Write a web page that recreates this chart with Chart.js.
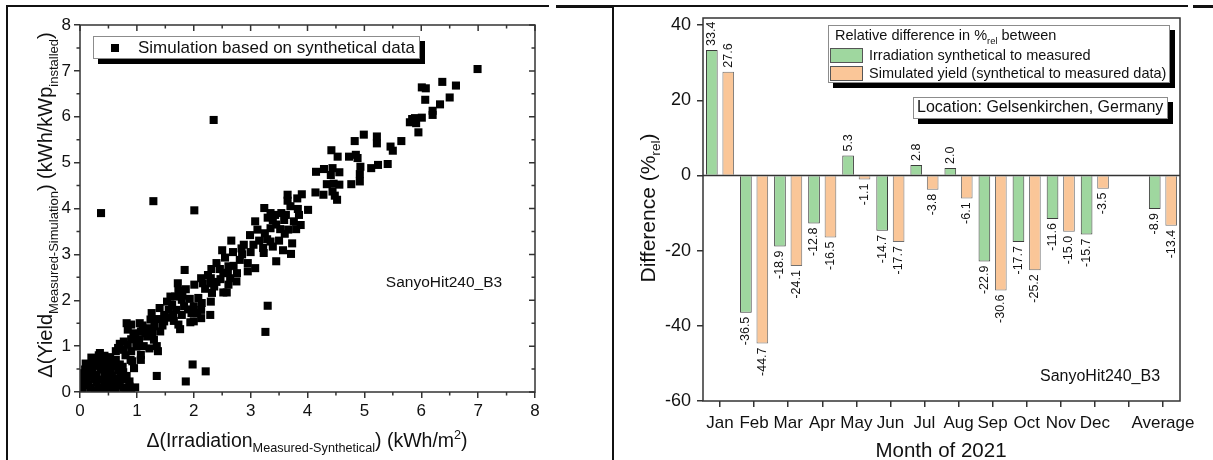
<!DOCTYPE html>
<html>
<head>
<meta charset="utf-8">
<script src="https://cdn.jsdelivr.net/npm/chart.js@4.4.1/dist/chart.umd.min.js"></script>
<style>
  html, body { margin: 0; padding: 0; background: #fff; }
  #page { position: relative; width: 1213px; height: 460px; overflow: hidden; }
  .cell { position: absolute; top: 0; height: 460px; }
  .rule { position: absolute; background: #111; }
</style>
</head>
<body>
<div id="page">
  <div class="cell" style="left:0;width:606px"><canvas id="scatterChart" width="606" height="460"></canvas></div>
  <div class="cell" style="left:606px;width:607px"><canvas id="barChart" width="607" height="460"></canvas></div>
  <div class="rule" style="left:6px;top:5px;width:543px;height:2px"></div>
  <div class="rule" style="left:556px;top:5px;width:57px;height:3px"></div>
  <div class="rule" style="left:612px;top:5px;width:576px;height:2px"></div>
  <div class="rule" style="left:1193px;top:5px;width:20px;height:3px"></div>
  <div class="rule" style="left:6px;top:5px;width:2px;height:455px"></div>
  <div class="rule" style="left:612px;top:5px;width:2px;height:455px"></div>
</div>

<script>
const FONT = '"Liberation Sans", Arial, Helvetica, sans-serif';

// left chart: daily differences (kWh/m2 vs kWh/kWp)
const irradiationDiff = [
  0.37, 1.29, 2.35, 2.01, 3.30, 3.26, 6.99, 1.98, 2.21, 1.86, 1.35, 0.97,
  6.37, 6.61, 6.01, 6.08, 6.07, 6.50, 6.33, 6.20, 6.20, 5.84, 5.89, 6.01, 5.80, 5.95, 5.91,
  4.99, 4.83, 5.65, 5.22, 5.22, 5.46, 5.50, 4.42, 4.53, 4.73, 4.88, 4.85, 4.93, 5.12, 5.24, 5.41,
  4.92, 4.92, 4.77, 4.15, 4.29, 4.44, 4.41, 4.56, 4.34, 4.46, 4.56, 4.14, 4.28, 4.48, 4.52, 4.44,
  4.01, 3.83, 3.65, 3.65, 3.90, 3.82, 3.85, 3.24, 3.35, 3.43, 3.54, 3.62, 3.59, 3.39, 3.76, 3.88,
  3.80, 3.66, 3.52, 3.35, 3.25, 3.29, 3.35, 3.39, 3.73, 3.57, 3.71, 3.45, 3.22, 3.23, 3.08, 3.12,
  2.99, 3.05, 2.88,
  2.66, 2.84, 2.69, 2.50, 2.55, 2.40, 2.31, 2.46, 2.61, 2.81, 2.95, 3.08, 2.95, 2.76, 2.52, 2.64,
  2.47, 2.75, 2.61, 2.30, 2.30, 2.16, 2.01, 2.13, 2.52, 2.58, 2.32, 2.30, 2.14, 1.84,
  1.72, 1.86, 1.73, 1.59, 1.53, 1.67, 1.79, 1.93, 2.00, 1.83, 1.69, 1.56, 1.40, 1.48, 1.64, 1.79,
  1.96, 2.13, 2.29, 2.00, 2.13, 1.94, 1.73, 1.76, 2.06,
  1.26, 1.24, 1.37, 1.48, 1.31, 1.18, 1.05, 1.41, 1.27, 0.82, 0.90, 0.84, 0.94, 1.07, 1.18, 1.04,
  0.90, 0.77, 1.30, 1.35, 1.37, 1.12, 0.99, 0.84, 0.67, 0.63, 0.76, 0.90, 1.07, 1.07, 0.92, 0.95, 0.89,
  0.35, 0.43, 0.53, 0.28, 0.22, 0.37, 0.50, 0.63, 0.70, 0.56, 0.44, 0.29, 0.17, 0.09, 0.22, 0.37,
  0.53, 0.67, 0.76, 0.05, 0.16, 0.29, 0.43, 0.56, 0.03, 0.12, 0.26, 0.37, 0.51, 0.65, 0.77, 0.87,
  0.03, 0.14, 0.29, 0.43, 0.56, 0.70, 0.05, 0.19, 0.33, 0.50, 0.63, 0.77, 0.03, 0.26, 0.43, 0.80, 0.87,
  0.10, 0.20, 0.33, 0.47, 0.60, 0.75, 0.82, 0.66, 0.48, 0.35, 0.08, 0.20, 0.40, 0.58, 0.72, 0.12,
  0.90, 0.60,
  0.70, 0.80, 1.00, 1.15, 1.22, 1.45, 1.10, 0.97, 1.55, 1.62,
  1.80, 1.90, 2.08, 2.20, 2.40, 2.25, 1.65, 2.36,
  2.70, 2.85, 3.00, 3.15, 3.45, 3.50, 3.60, 2.60, 3.30, 3.70
];
const yieldDiff = [
  3.90, 4.16, 5.93, 3.96, 1.88, 1.31, 7.04, 0.60, 0.45, 0.23, 0.35, 0.10,
  6.76, 6.68, 6.64, 6.62, 6.37, 6.42, 6.27, 6.13, 6.04, 5.95, 5.97, 5.98, 5.88, 5.66, 5.86,
  5.61, 5.47, 5.47, 5.57, 5.42, 5.35, 5.26, 5.27, 5.13, 5.13, 5.10, 5.17, 4.91, 4.88, 4.95, 4.97,
  4.75, 4.59, 4.53, 4.80, 4.86, 4.88, 4.73, 4.79, 4.53, 4.54, 4.52, 4.35, 4.30, 4.28, 4.19, 4.37,
  3.97, 3.99, 4.30, 4.17, 4.31, 4.22, 3.86, 4.01, 3.90, 3.86, 3.90, 3.86, 3.75, 3.75, 3.72, 3.64,
  3.55, 3.54, 3.55, 3.57, 3.46, 3.33, 3.28, 3.17, 3.24, 3.09, 3.01, 2.85, 3.14, 3.03, 3.72, 3.54,
  3.42, 3.21, 3.21,
  3.30, 3.13, 3.05, 3.09, 2.93, 2.81, 2.68, 2.68, 2.74, 2.88, 2.81, 2.70, 2.63, 2.59, 2.59, 2.48,
  2.46, 2.41, 2.34, 2.48, 2.37, 2.37, 2.34, 2.48, 2.17, 2.17, 2.16, 1.97, 1.94, 2.66,
  2.37, 2.24, 2.21, 2.08, 1.97, 2.08, 2.01, 2.03, 1.87, 1.87, 1.79, 1.79, 1.83, 1.68, 1.68, 1.68,
  1.72, 1.79, 1.68, 1.54, 1.61, 1.52, 1.47, 1.37, 1.72,
  1.72, 1.58, 1.59, 1.54, 1.43, 1.39, 1.50, 1.32, 1.28, 1.50, 1.47, 1.36, 1.28, 1.32, 1.21, 1.15,
  1.15, 1.10, 1.14, 1.00, 0.89, 1.00, 0.99, 1.03, 0.96, 0.89, 0.92, 0.89, 0.81, 0.70, 0.67, 0.52, 0.70,
  0.85, 0.79, 0.76, 0.74, 0.67, 0.67, 0.67, 0.70, 0.60, 0.56, 0.56, 0.57, 0.57, 0.49, 0.49, 0.49,
  0.49, 0.47, 0.43, 0.41, 0.40, 0.38, 0.38, 0.36, 0.30, 0.28, 0.27, 0.27, 0.27, 0.30, 0.27, 0.23,
  0.20, 0.16, 0.20, 0.16, 0.18, 0.14, 0.09, 0.09, 0.07, 0.09, 0.07, 0.09, 0.03, 0.03, 0.01, 0.04, 0.12,
  0.62, 0.75, 0.80, 0.70, 0.62, 0.55, 0.35, 0.20, 0.44, 0.58, 0.15, 0.33, 0.10, 0.28, 0.38, 0.45,
  0.05, 0.02,
  1.05, 0.80, 1.10, 1.28, 0.95, 1.45, 1.45, 1.22, 1.62, 1.90,
  2.10, 1.80, 2.05, 2.25, 2.40, 2.55, 1.55, 2.30,
  2.75, 3.00, 3.05, 3.30, 3.65, 3.30, 3.45, 2.60, 3.80, 4.05
];

// right chart: relative difference per month (%rel)
const months = ['Jan', 'Feb', 'Mar', 'Apr', 'May', 'Jun', 'Jul', 'Aug', 'Sep', 'Oct', 'Nov', 'Dec', '', 'Average'];
const irradiationRel = [33.4, -36.5, -18.9, -12.8, 5.3, -14.7, 2.8, 2.0, -22.9, -17.7, -11.6, -15.7, null, -8.9];
const yieldRel = [27.6, -44.7, -24.1, -16.5, -1.1, -17.7, -3.8, -6.1, -30.6, -25.2, -15.0, -3.5, null, -13.4];

Chart.defaults.font.family = FONT;
Chart.defaults.color = '#111';

// text with sub/superscript parts, centred on (x, y)
function richText(ctx, parts, x, y, size, rotate, align) {
  const small = size * 0.65;
  ctx.save();
  ctx.translate(x, y);
  if (rotate) ctx.rotate(-Math.PI / 2);
  let total = 0;
  parts.forEach(p => {
    ctx.font = (p.sub || p.sup ? small : size) + 'px ' + FONT;
    p.w = ctx.measureText(p.text).width;
    total += p.w;
  });
  let cx = align === 'left' ? 0 : -total / 2;
  ctx.fillStyle = '#111';
  ctx.textAlign = 'left';
  ctx.textBaseline = 'alphabetic';
  parts.forEach(p => {
    ctx.font = (p.sub || p.sup ? small : size) + 'px ' + FONT;
    let dy = size * 0.36;
    if (p.sub) dy += size * 0.28;
    if (p.sup) dy -= size * 0.42;
    ctx.fillText(p.text, cx, dy);
    cx += p.w;
  });
  ctx.restore();
}

function shadowBox(ctx, x, y, w, h, off) {
  ctx.fillStyle = '#000';
  ctx.fillRect(x + off, y + off, w, h);
  ctx.fillStyle = '#fff';
  ctx.fillRect(x, y, w, h);
  ctx.strokeStyle = '#8c8c8c';
  ctx.lineWidth = 1;
  ctx.strokeRect(x + 0.5, y + 0.5, w - 1, h - 1);
}

function plainText(ctx, text, x, y, size, align) {
  ctx.font = size + 'px ' + FONT;
  ctx.fillStyle = '#111';
  ctx.textAlign = align || 'center';
  ctx.textBaseline = 'middle';
  ctx.fillText(text, x, y);
}

// frame, minor ticks, inner ticks, legend and titles of the scatter plot
const scatterDecor = {
  id: 'scatterDecor',
  afterDraw(chart) {
    const { ctx, chartArea: a, scales } = chart;
    ctx.save();
    ctx.strokeStyle = '#333';
    ctx.lineWidth = 1.5;
    ctx.strokeRect(a.left, a.top, a.right - a.left, a.bottom - a.top);
    ctx.beginPath();
    for (let v = 0; v <= 8; v += 0.5) {
      const major = v % 1 === 0;
      const len = major ? 6 : 3.5;
      const px = scales.x.getPixelForValue(v);
      const py = scales.y.getPixelForValue(v);
      ctx.moveTo(px, a.top); ctx.lineTo(px, a.top + len);
      ctx.moveTo(a.right, py); ctx.lineTo(a.right - len, py);
      if (!major) {
        ctx.moveTo(px, a.bottom); ctx.lineTo(px, a.bottom + len);
        ctx.moveTo(a.left, py); ctx.lineTo(a.left - len, py);
      }
    }
    ctx.stroke();

    // legend
    shadowBox(ctx, 93, 36, 327, 23, 5);
    ctx.fillStyle = '#000';
    ctx.fillRect(111, 44, 8, 8);
    plainText(ctx, chart.data.datasets[0].label, 138, 48, 17, 'left');

    plainText(ctx, 'SanyoHit240_B3', 444, 283, 15.5);

    richText(ctx, [
      { text: '\u0394(Yield' }, { text: 'Measured-Simulation', sub: true },
      { text: ') (kWh/kWp' }, { text: 'installed', sub: true }, { text: ')' }
    ], 45, 205, 20, true);
    richText(ctx, [
      { text: '\u0394(Irradiation' }, { text: 'Measured-Synthetical', sub: true },
      { text: ') (kWh/m' }, { text: '2', sup: true }, { text: ')' }
    ], 307, 440, 19.5, false);
    ctx.restore();
  }
};

// frame, zero line, value labels, legend and titles of the bar plot
const barDecor = {
  id: 'barDecor',
  afterDatasetsDraw(chart) {
    const { ctx, chartArea: a, scales } = chart;
    ctx.save();
    const y0 = scales.y.getPixelForValue(0);
    ctx.strokeStyle = '#333';
    ctx.lineWidth = 1.5;
    ctx.beginPath();
    ctx.moveTo(a.left, y0);
    ctx.lineTo(a.right, y0);
    ctx.stroke();
    ctx.strokeRect(a.left, a.top, a.right - a.left, a.bottom - a.top);

    ctx.font = '12.5px ' + FONT;
    ctx.fillStyle = '#111';
    ctx.textBaseline = 'middle';
    chart.data.datasets.forEach((ds, i) => {
      chart.getDatasetMeta(i).data.forEach((bar, j) => {
        const v = ds.data[j];
        if (v === null) return;
        ctx.save();
        ctx.translate(bar.x, v >= 0 ? bar.y - 4 : bar.y + 4);
        ctx.rotate(-Math.PI / 2);
        ctx.textAlign = v >= 0 ? 'left' : 'right';
        ctx.fillText(v.toFixed(1), 0, 0);
        ctx.restore();
      });
    });
    ctx.restore();
  },
  afterDraw(chart) {
    const { ctx } = chart;
    ctx.save();
    shadowBox(ctx, 222, 25, 342, 58, 5);
    richText(ctx, [
      { text: 'Relative difference in %' }, { text: 'rel', sub: true }, { text: ' between' }
    ], 229, 35, 14.5, false, 'left');
    chart.data.datasets.forEach((ds, i) => {
      const top = 48 + i * 18;
      ctx.fillStyle = ds.backgroundColor;
      ctx.fillRect(224, top, 33, 15);
      ctx.strokeStyle = '#555';
      ctx.lineWidth = 1;
      ctx.strokeRect(224.5, top + 0.5, 32, 14);
      plainText(ctx, ds.label, 263, top + 8, 14.5, 'left');
    });

    shadowBox(ctx, 307, 97, 255, 22, 5);
    plainText(ctx, 'Location: Gelsenkirchen, Germany', 311, 108, 16, 'left');

    plainText(ctx, 'SanyoHit240_B3', 494, 377, 16);

    richText(ctx, [
      { text: 'Difference (%' }, { text: 'rel', sub: true }, { text: ')' }
    ], 41, 208, 21, true);
    plainText(ctx, 'Month of 2021', 335, 451, 20.5);
    ctx.restore();
  }
};

function scatterChart() {
  const ctx = document.getElementById('scatterChart').getContext('2d');
  const points = irradiationDiff.map((x, i) => ({ x: x, y: yieldDiff[i] }));
  new Chart(ctx, {
    type: 'scatter',
    data: {
      datasets: [{
        label: 'Simulation based on synthetical data',
        data: points,
        pointStyle: 'rect',
        pointRadius: 5.7,
        backgroundColor: '#000',
        borderColor: '#000',
        borderWidth: 0
      }]
    },
    options: {
      responsive: false,
      animation: false,
      layout: { padding: { top: 25, right: 71, left: 0, bottom: 0 } },
      plugins: { legend: { display: false }, tooltip: { enabled: false } },
      scales: {
        x: {
          type: 'linear', min: 0, max: 8,
          afterFit: s => { s.height = 68; },
          ticks: { stepSize: 1, font: { size: 17 }, padding: 3, maxRotation: 0 },
          grid: { drawOnChartArea: false, tickLength: 6, color: '#333', lineWidth: 1.5 },
          border: { display: false }
        },
        y: {
          type: 'linear', min: 0, max: 8,
          afterFit: s => { s.width = 80; },
          ticks: { stepSize: 1, font: { size: 17 }, padding: 3 },
          grid: { drawOnChartArea: false, tickLength: 6, color: '#333', lineWidth: 1.5 },
          border: { display: false }
        }
      }
    },
    plugins: [scatterDecor]
  });
}

function barChart() {
  const ctx = document.getElementById('barChart').getContext('2d');
  new Chart(ctx, {
    type: 'bar',
    data: {
      labels: months,
      datasets: [{
        label: 'Irradiation synthetical to measured',
        data: irradiationRel,
        backgroundColor: '#9fd79f',
        borderColor: '#3c3c3c',
        borderWidth: 1
      }, {
        label: 'Simulated yield (synthetical to measured data)',
        data: yieldRel,
        backgroundColor: '#fac698',
        borderColor: '#707070',
        borderWidth: 1
      }]
    },
    options: {
      responsive: false,
      animation: false,
      categoryPercentage: 0.965,
      barPercentage: 0.71,
      layout: { padding: { top: 18, right: 33, left: 0, bottom: 0 } },
      plugins: { legend: { display: false }, tooltip: { enabled: false } },
      scales: {
        x: {
          afterFit: s => { s.height = 59; },
          ticks: { font: { size: 17 }, padding: 6, maxRotation: 0, autoSkip: false },
          grid: { offset: false, drawOnChartArea: false, tickLength: 6, color: '#333', lineWidth: 1.5 },
          border: { display: false }
        },
        y: {
          min: -60, max: 41.9,
          afterFit: s => { s.width = 97; },
          ticks: { stepSize: 20, includeBounds: false, font: { size: 18 }, padding: 6 },
          grid: { drawOnChartArea: false, tickLength: 6, color: '#333', lineWidth: 1.5 },
          border: { display: false }
        }
      }
    },
    plugins: [barDecor]
  });
}

scatterChart();
barChart();
</script>
</body>
</html>
